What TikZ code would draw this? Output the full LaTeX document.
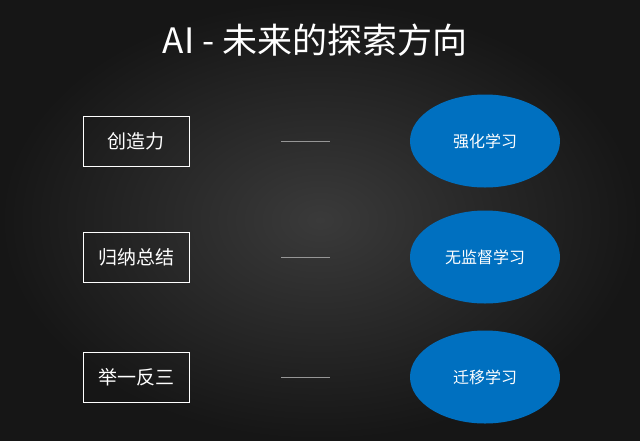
\documentclass[tikz,border=0pt]{standalone}
\usepackage{fontspec}
\newfontfamily\cjk{Noto Sans CJK SC}
\usetikzlibrary{shapes.geometric}
\definecolor{bginner}{RGB}{58,58,58}
\definecolor{bgouter}{RGB}{22,22,22}
\definecolor{ovalblue}{RGB}{0,112,192}
\definecolor{linegray}{RGB}{150,150,150}
\begin{document}
\begin{tikzpicture}[
        x=1pt, y=-1pt,
        font=\cjk,
        box/.style={draw=white, thick, text=white, minimum width=106pt, minimum height=50pt, font=\cjk\fontsize{19}{22}\selectfont},
        oval/.style={ellipse, fill=ovalblue, text=white, minimum width=150pt, minimum height=93pt, inner sep=0pt, font=\cjk\fontsize{16}{18}\selectfont},
        link/.style={draw=linegray, line width=0.6pt, shorten <=92pt, shorten >=80pt}
        ]
        \shade[inner color=bginner, outer color=bgouter] (0,0) rectangle (640,440);
        \useasboundingbox (0,0) rectangle (640,440);

        \node[text=white, font=\cjk\fontsize{35}{40}\selectfont] (title) at (315,40) {AI - 未来的探索方向};

        \node[box] (create) at (136,141) {创造力};
        \node[box] (induct) at (136,257) {归纳总结};
        \node[box] (infer) at (136,377) {举一反三};

        \node[oval] (rl) at (485,141) {强化学习};
        \node[oval] (ul) at (485,257) {无监督学习};
        \node[oval] (tl) at (485,377) {迁移学习};

        \draw[link] (create) -- (rl);
        \draw[link] (induct) -- (ul);
        \draw[link] (infer) -- (tl);
\end{tikzpicture}
\end{document}
